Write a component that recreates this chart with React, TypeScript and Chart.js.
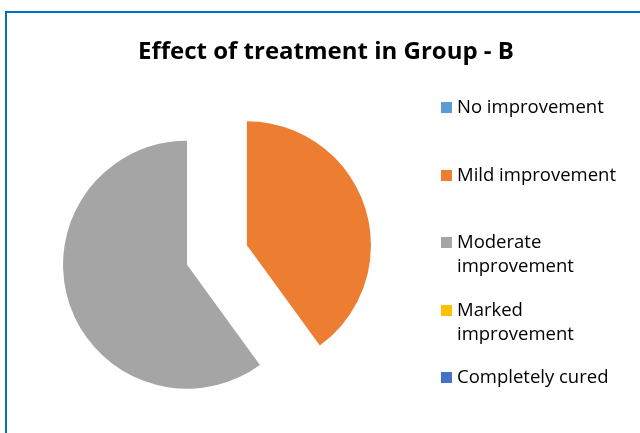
import React, { useEffect, useRef } from "react";
import { Chart, registerables } from "chart.js";

Chart.register(...registerables);

const TITLE = "Effect of treatment in Group - B";
const categories = [
  "No improvement",
  "Mild improvement",
  "Moderate improvement",
  "Marked improvement",
  "Completely cured",
];
const legendLines = [
  ["No improvement"],
  ["Mild improvement"],
  ["Moderate", "improvement"],
  ["Marked", "improvement"],
  ["Completely cured"],
];
const values = [0, 40, 60, 0, 0];
const colors = ["#5B9BD5", "#ED7D31", "#A5A5A5", "#FFC000", "#4472C4"];

const FONT = '"Open Sans", "DejaVu Sans", sans-serif';

const decorPlugin = {
  id: "decor",
  beforeDraw(chart: any) {
    const ctx = chart.ctx;
    ctx.save();
    ctx.fillStyle = "#ffffff";
    ctx.fillRect(0, 0, chart.width, chart.height);
    ctx.strokeStyle = "#0070C0";
    ctx.lineWidth = 2;
    ctx.beginPath();
    ctx.moveTo(6, chart.height + 5);
    ctx.lineTo(6, 12);
    ctx.lineTo(chart.width + 5, 12);
    ctx.stroke();
    ctx.restore();
  },
  beforeDatasetsDraw(chart: any) {
    const ctx = chart.ctx;
    const meta = chart.getDatasetMeta(0);
    meta.data.forEach((el: any) => {
      const s = el.startAngle;
      const e = el.endAngle;
      if (!(e - s > 0)) return;
      const off = (el.options.offset || 0) / 4;
      const half = (s + e) / 2;
      ctx.save();
      ctx.translate(Math.cos(half) * off, Math.sin(half) * off);
      ctx.beginPath();
      ctx.moveTo(el.x, el.y);
      ctx.arc(el.x, el.y, el.outerRadius, s, e);
      ctx.closePath();
      ctx.fillStyle = el.options.backgroundColor;
      ctx.fill();
      ctx.restore();
    });
    return false;
  },
  afterDraw(chart: any) {
    const ctx = chart.ctx;
    ctx.save();
    // title
    ctx.fillStyle = "#000000";
    ctx.font = `bold 24px ${FONT}`;
    ctx.textAlign = "center";
    ctx.textBaseline = "alphabetic";
    ctx.fillText(TITLE, 326, 59);
    // legend
    const baselines = [113, 181, 248, 316, 383];
    const lineH = 24;
    ctx.font = `18.5px ${FONT}`;
    ctx.textAlign = "left";
    legendLines.forEach((lines, i) => {
      const b = baselines[i];
      ctx.fillStyle = colors[i];
      ctx.fillRect(441, b - 11, 11, 11);
      ctx.fillStyle = "#000000";
      lines.forEach((t, j) => ctx.fillText(t, 457, b + j * lineH));
    });
    ctx.restore();
  },
};

export default function App() {
  const ref = useRef<HTMLCanvasElement>(null);
  useEffect(() => {
    const chart = new Chart(ref.current as HTMLCanvasElement, {
      type: "pie",
      data: {
        labels: categories,
        datasets: [
          {
            data: values,
            backgroundColor: colors,
            borderWidth: 0,
            offset: 126,
          },
        ],
      },
      options: {
        animation: false,
        responsive: false,
        radius: 124,
        layout: { padding: { left: 80, right: 286, top: 120, bottom: 43 } },
        plugins: {
          legend: { display: false },
          title: { display: false },
          tooltip: { enabled: false },
        },
      } as any,
      plugins: [decorPlugin],
    });
    return () => chart.destroy();
  }, []);
  return (
    <div style={{ position: "fixed", left: 0, top: 0, width: 640, height: 433, background: "#fff" }}>
      <canvas ref={ref} width={640} height={433} />
    </div>
  );
}
